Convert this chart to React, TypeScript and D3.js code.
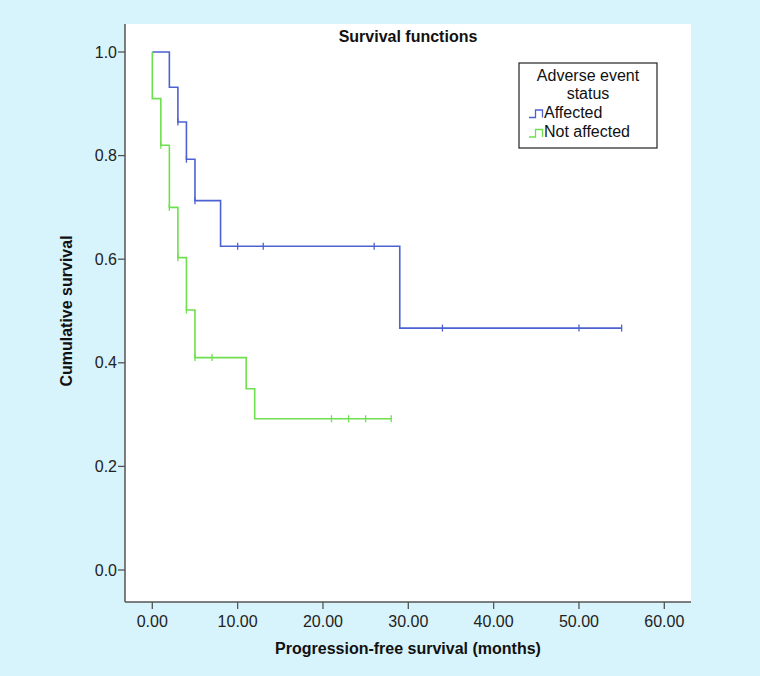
import React from 'react';
import * as d3 from 'd3';

// Kaplan-Meier steps (time in months, cumulative survival after the step)
const affectedTimes = [0, 2, 3, 4, 5, 8, 29, 55];
const affectedSurv = [1.0, 0.932, 0.865, 0.793, 0.713, 0.625, 0.467, 0.467];
const affectedCensored = [3, 4, 5, 10, 13, 26, 34, 50, 55];

const notAffectedTimes = [0, 0, 1, 2, 3, 4, 5, 11, 12, 28];
const notAffectedSurv = [1.0, 0.91, 0.82, 0.7, 0.603, 0.502, 0.41, 0.35, 0.292, 0.292];
const notAffectedCensored = [1, 2, 3, 4, 5, 7, 21, 23, 25, 28];

const xTicks = [0, 10, 20, 30, 40, 50, 60];
const yTicks = [0, 0.2, 0.4, 0.6, 0.8, 1.0];

const W = 760;
const H = 676;
const BG = '#d7f3fb';
const AXIS = '#555555';
const BLUE = '#4d62d0';
const GREEN = '#6ee04f';
const FONT = '"Liberation Sans", Arial, Helvetica, sans-serif';

// plot frame
const frame = { left: 125, right: 691, top: 24, bottom: 602 };

const x = d3.scaleLinear().domain([0, 60]).range([152.3, 664.3]);
const y = d3.scaleLinear().domain([0, 1]).range([570, 52]);

const stepLine = d3
  .line<[number, number]>()
  .x((d) => x(d[0]))
  .y((d) => y(d[1]))
  .curve(d3.curveStepAfter);

// survival level at time t (last step at or before t)
function levelAt(times: number[], surv: number[], t: number) {
  let s = surv[0];
  for (let i = 0; i < times.length; i++) {
    if (times[i] <= t) s = surv[i];
  }
  return s;
}

interface CurveProps {
  times: number[];
  surv: number[];
  censored: number[];
  color: string;
}

function Curve(props: CurveProps) {
  const pts = props.times.map((t, i) => [t, props.surv[i]] as [number, number]);
  return (
    <g>
      <path d={stepLine(pts) || ''} fill="none" stroke={props.color} strokeWidth={1.6} />
      {props.censored.map((t, i) => {
        const cy = y(levelAt(props.times, props.surv, t));
        return (
          <line
            key={i}
            x1={x(t)}
            x2={x(t)}
            y1={cy - 3.5}
            y2={cy + 3.5}
            stroke={props.color}
            strokeWidth={1.3}
          />
        );
      })}
    </g>
  );
}

export default function App(): JSX.Element {
  const legendX = 519;
  const legendY = 63;
  const legendW = 138;
  const legendH = 85;
  const legendCx = legendX + legendW / 2;

  return (
    <div style={{ position: 'absolute', left: 0, top: 0 }}>
      <svg width={W} height={H} style={{ display: 'block', fontFamily: FONT }}>
        <rect x={0} y={0} width={W} height={H} fill={BG} />
        <rect
          x={frame.left}
          y={frame.top}
          width={frame.right - frame.left}
          height={frame.bottom - frame.top}
          fill="white"
        />

        {/* title */}
        <text x={408} y={42} textAnchor="middle" fontSize={16} fontWeight="bold" fill="#111">
          Survival functions
        </text>

        {/* axes */}
        <line x1={frame.left} x2={frame.left} y1={frame.top} y2={frame.bottom} stroke={AXIS} strokeWidth={1.5} />
        <line x1={frame.left} x2={frame.right} y1={frame.bottom} y2={frame.bottom} stroke={AXIS} strokeWidth={1.5} />

        {yTicks.map((t) => (
          <g key={t}>
            <line x1={frame.left - 7} x2={frame.left} y1={y(t)} y2={y(t)} stroke={AXIS} strokeWidth={1.3} />
            <text x={frame.left - 8} y={y(t) + 5.5} textAnchor="end" fontSize={16} fill="#222">
              {t.toFixed(1)}
            </text>
          </g>
        ))}
        {xTicks.map((t) => (
          <g key={t}>
            <line x1={x(t)} x2={x(t)} y1={frame.bottom} y2={frame.bottom + 7} stroke={AXIS} strokeWidth={1.3} />
            <text x={x(t)} y={627} textAnchor="middle" fontSize={16} fill="#222">
              {t.toFixed(2)}
            </text>
          </g>
        ))}

        <text x={408} y={654} textAnchor="middle" fontSize={16} fontWeight="bold" fill="#111">
          Progression-free survival (months)
        </text>
        <text
          transform={`translate(72, ${y(0.5)}) rotate(-90)`}
          textAnchor="middle"
          fontSize={16}
          fontWeight="bold"
          fill="#111"
        >
          Cumulative survival
        </text>

        {/* curves */}
        <Curve times={affectedTimes} surv={affectedSurv} censored={affectedCensored} color={BLUE} />
        <Curve times={notAffectedTimes} surv={notAffectedSurv} censored={notAffectedCensored} color={GREEN} />

        {/* legend */}
        <rect x={legendX} y={legendY} width={legendW} height={legendH} fill="white" stroke="#222" strokeWidth={1.2} />
        <text x={legendCx} y={81} textAnchor="middle" fontSize={16} fill="#111">
          Adverse event
        </text>
        <text x={legendCx} y={99} textAnchor="middle" fontSize={16} fill="#111">
          status
        </text>
        <path d="M529,117.5 H535.5 V110 H542.5 V117.5" fill="none" stroke={BLUE} strokeWidth={1.3} />
        <text x={544} y={117.5} fontSize={16} fill="#111">
          Affected
        </text>
        <path d="M529,137 H535.5 V129.5 H542.5 V137" fill="none" stroke={GREEN} strokeWidth={1.3} />
        <text x={544} y={137} fontSize={16} fill="#111">
          Not affected
        </text>
      </svg>
    </div>
  );
}
